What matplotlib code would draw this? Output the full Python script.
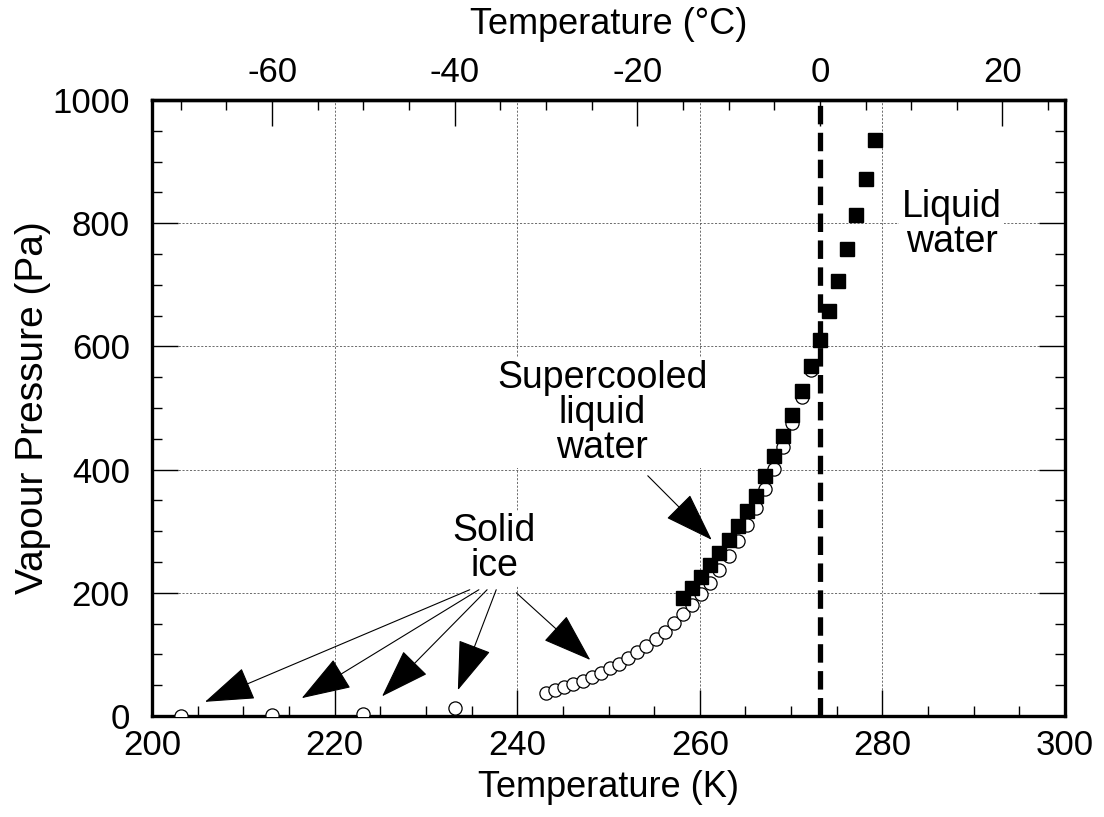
import matplotlib.pyplot as plt
from matplotlib.ticker import MultipleLocator, FixedLocator
from matplotlib.patches import FancyArrowPatch

plt.rcParams['font.family'] = ['Liberation Sans', 'DejaVu Sans']
plt.rcParams['axes.unicode_minus'] = False

# Ice (open circles): temperature (K) and vapour pressure (Pa)
ice_T = [203.15, 213.15, 223.15, 233.15,
         243.15, 244.15, 245.15, 246.15, 247.15, 248.15, 249.15, 250.15,
         251.15, 252.15, 253.15, 254.15, 255.15, 256.15, 257.15, 258.15,
         259.15, 260.15, 261.15, 262.15, 263.15, 264.15, 265.15, 266.15,
         267.15, 268.15, 269.15, 270.15, 271.15, 272.15]
ice_P = [0.26, 1.08, 3.94, 12.8,
         38.0, 42.0, 46.8, 51.8, 57.4, 63.3, 70.0, 77.3,
         85.1, 93.8, 103.2, 113.6, 124.9, 137.1, 150.5, 165.2,
         181.0, 198.1, 216.7, 237.0, 259.9, 283.9, 310.0, 338.2,
         368.9, 401.8, 437.3, 475.7, 517.3, 562.0]

# Liquid / supercooled water (filled squares)
water_T = [258.15, 259.15, 260.15, 261.15, 262.15, 263.15, 264.15, 265.15,
           266.15, 267.15, 268.15, 269.15, 270.15, 271.15, 272.15, 273.15,
           274.15, 275.15, 276.15, 277.15, 278.15, 279.15]
water_P = [191.2, 208.0, 225.9, 244.9, 265.2, 286.5, 309.0, 332.5,
           357.7, 390.1, 421.7, 455.0, 489.3, 527.4, 567.8, 611.2,
           657.1, 706.0, 757.9, 813.5, 872.5, 935.4]

celsius_ticks = [-60, -40, -20, 0, 20]
celsius_minor = [-70, -65, -55, -50, -45, -35, -30, -25, -15, -10, -5, 5, 10, 15, 25]

T_freeze = 273.15

fig = plt.figure(figsize=(11.04, 8.17), dpi=100)
ax = fig.add_axes([0.1377, 0.1236, 0.8270, 0.7540])

ax.set_xlim(200, 300)
ax.set_ylim(0, 1000)

# grid only at major ticks
ax.xaxis.set_major_locator(MultipleLocator(20))
ax.xaxis.set_minor_locator(MultipleLocator(5))
ax.yaxis.set_major_locator(MultipleLocator(200))
ax.yaxis.set_minor_locator(MultipleLocator(50))
ax.grid(True, which='major', color='#555555', linestyle=(0, (2.5, 2)), linewidth=0.6)
ax.set_axisbelow(True)

ax.axvline(T_freeze, color='black', linewidth=3.8, linestyle=(0, (3.5, 1.6)), zorder=2)

ax.plot(ice_T, ice_P, linestyle='none', marker='o', markersize=9.5,
        markerfacecolor='white', markeredgecolor='black', markeredgewidth=0.9, zorder=3)
ax.plot(water_T, water_P, linestyle='none', marker='s', markersize=10,
        markerfacecolor='black', markeredgecolor='black', zorder=4)

for s in ax.spines.values():
    s.set_linewidth(2.4)

ax.tick_params(which='both', direction='in', top=False, right=True,
               labelsize=25, width=1.0, pad=9)
ax.tick_params(axis='y', which='both', pad=16)
ax.tick_params(which='major', length=19)
ax.tick_params(which='minor', length=7)

ax.set_xlabel('Temperature (K)', fontsize=26, labelpad=6)
ax.set_ylabel('Vapour Pressure (Pa)', fontsize=28, labelpad=1)

# top axis in Celsius
top = ax.secondary_xaxis('top', functions=(lambda k: k - 273.15, lambda c: c + 273.15))
top.xaxis.set_major_locator(FixedLocator(celsius_ticks))
top.xaxis.set_minor_locator(FixedLocator(celsius_minor))
top.tick_params(which='both', direction='in', labelsize=25, width=1.0, pad=8)
top.tick_params(which='major', length=19)
top.tick_params(which='minor', length=7)
top.set_xlabel('Temperature (°C)', fontsize=26, labelpad=16)
top.spines['top'].set_linewidth(2.4)

box = dict(facecolor='white', edgecolor='none', pad=2)
ax.text(249.3, 492, 'Supercooled\nliquid\nwater', fontsize=27, ha='center', va='center',
        linespacing=0.95, bbox=box, zorder=5)
ax.text(237.5, 272, 'Solid\nice', fontsize=27, ha='center', va='center',
        linespacing=0.95, bbox=box, zorder=5)
ax.text(287.6, 798, 'Liquid\nwater', fontsize=27, ha='center', va='center',
        linespacing=0.95, bbox=box, zorder=5)

arrows = [
    ((254.3, 390), (261.3, 286)),
    ((234.8, 205), (205.8, 23)),
    ((235.8, 205), (216.4, 29)),
    ((236.7, 205), (225.2, 32)),
    ((237.7, 205), (233.5, 42)),
    ((239.9, 200), (248.0, 91)),
]
for tail, head in arrows:
    ax.add_patch(FancyArrowPatch(tail, head, arrowstyle='-|>,head_length=1.6,head_width=0.55',
                                 mutation_scale=20, color='black', linewidth=0.8,
                                 shrinkA=0, shrinkB=0, zorder=6))

fig.savefig('out.png', dpi=100)
